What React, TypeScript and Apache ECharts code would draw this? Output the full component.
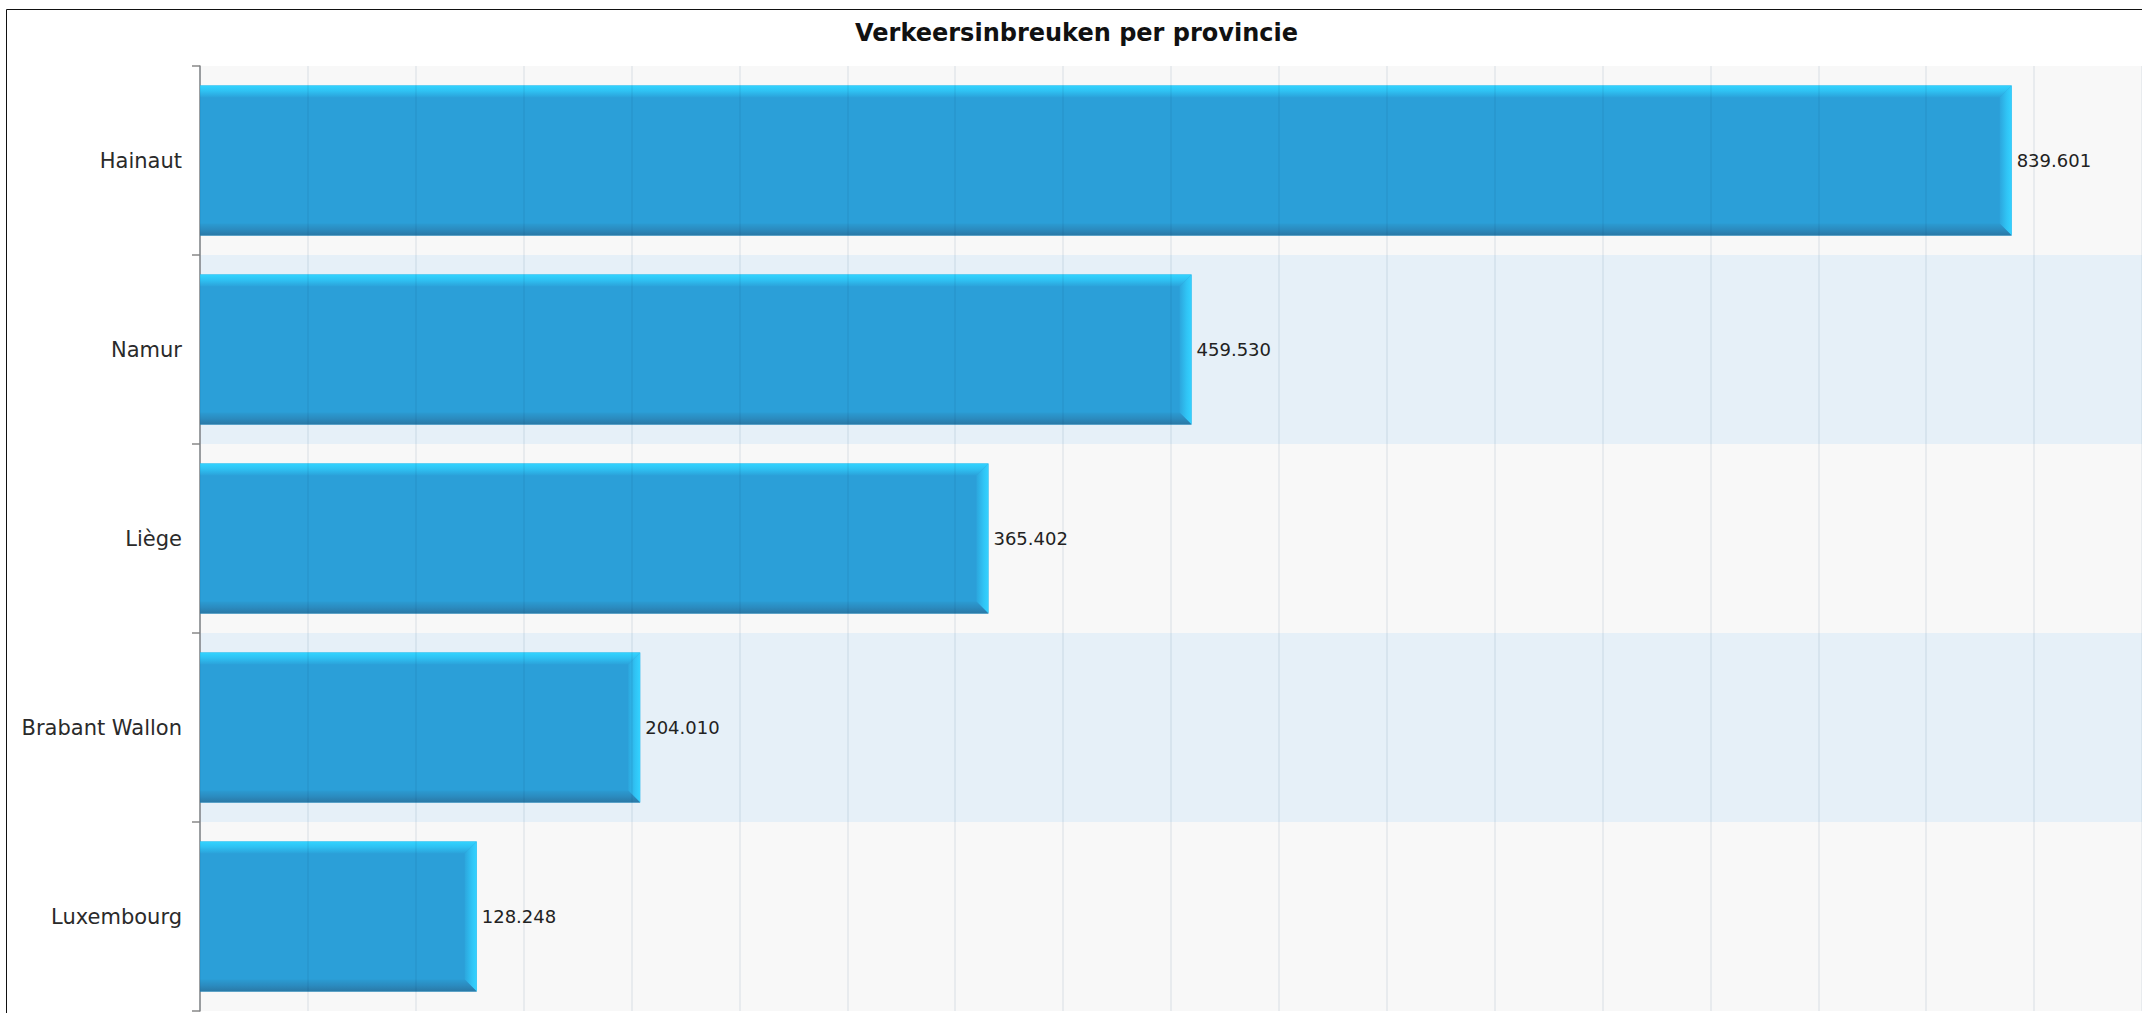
import React, { useEffect, useRef } from "react";
import * as echarts from "echarts";

const titleText = "Verkeersinbreuken per provincie";
const categories = ["Hainaut", "Namur", "Liège", "Brabant Wallon", "Luxembourg"];
const values = [839601, 459530, 365402, 204010, 128248];
const xMin = 0;
const xMax = 900000;
const xInterval = 50000;

function fmt(v: number): string {
  const s = Math.round(v).toString();
  return s.replace(/\B(?=(\d{3})+(?!\d))/g, ".");
}

export default function App() {
  const ref = useRef<HTMLDivElement>(null);
  useEffect(() => {
    if (!ref.current) return;
    const chart = echarts.init(ref.current, undefined, { renderer: "svg" });
    const option: any = {
      animation: false,
      backgroundColor: "#ffffff",
      grid: { left: 200, top: 66, height: 945, width: 1944, containLabel: false },
      graphic: [
        {
          type: "rect",
          silent: true,
          z: 0,
          shape: { x: 6.5, y: 9.5, width: 2400, height: 1200 },
          style: { fill: "transparent", stroke: "#111", lineWidth: 1 },
        },
        {
          type: "text",
          x: 1076.5,
          y: 33,
          style: {
            text: titleText,
            font: 'bold 24px "DejaVu Sans"',
            fill: "#111",
            align: "center",
            verticalAlign: "middle",
          },
        },
      ],
      xAxis: {
        type: "value",
        min: xMin,
        max: xMax,
        interval: xInterval,
        z: 3,
        axisLine: { show: false },
        axisTick: { show: false },
        axisLabel: { show: false },
        splitLine: { show: true, lineStyle: { color: "rgba(0,50,100,0.085)", width: 1.5 } },
      },
      yAxis: {
        type: "category",
        data: categories,
        inverse: true,
        axisLine: { show: true, lineStyle: { color: "#888", width: 1.5 } },
        axisTick: { show: true, length: 8, lineStyle: { color: "#888", width: 1.5 } },
        axisLabel: {
          fontSize: 21,
          fontFamily: "DejaVu Sans",
          color: "#2a2a2a",
          margin: 18,
        },
        splitLine: { show: false },
        splitArea: { show: true, areaStyle: { color: ["#f8f8f8", "#e6f0f8"] } },
      },
      series: [
        {
          type: "custom",
          clip: false,
          encode: { x: 0, y: 1 },
          data: values.map((v, i) => [v, i]),
          renderItem: (params: any, api: any) => {
            const v = api.value(0);
            const idx = api.value(1);
            const end = api.coord([v, idx]);
            const start = api.coord([0, idx]);
            const band = api.size([0, 1])[1];
            const h = band * 0.794;
            const x0 = start[0];
            const x1 = end[0];
            const y0 = end[1] - h / 2;
            const y1 = end[1] + h / 2;
            const b = 12;
            return {
              type: "group",
              children: [
                {
                  type: "rect",
                  shape: { x: x0, y: y0, width: x1 - x0, height: y1 - y0 },
                  style: { fill: "#2b9fd8" },
                },
                {
                  type: "polygon",
                  shape: { points: [[x0, y0], [x1, y0], [x1 - b, y0 + b], [x0, y0 + b]] },
                  style: {
                    fill: new echarts.graphic.LinearGradient(0, 0, 0, 1, [
                      { offset: 0, color: "#32d4ff" },
                      { offset: 0.45, color: "#2fc2f3" },
                      { offset: 1, color: "#2ba2da" },
                    ]),
                  },
                },
                {
                  type: "polygon",
                  shape: { points: [[x1, y0], [x1, y1], [x1 - b, y1 - b], [x1 - b, y0 + b]] },
                  style: {
                    fill: new echarts.graphic.LinearGradient(0, 0, 1, 0, [
                      { offset: 0, color: "#2ca6dd" },
                      { offset: 0.6, color: "#30c4f5" },
                      { offset: 1, color: "#34d2ff" },
                    ]),
                  },
                },
                {
                  type: "polygon",
                  shape: { points: [[x0, y1 - b], [x1 - b, y1 - b], [x1, y1], [x0, y1]] },
                  style: {
                    fill: new echarts.graphic.LinearGradient(0, 0, 0, 1, [
                      { offset: 0, color: "#2b9bd2" },
                      { offset: 0.5, color: "#2b8bbf" },
                      { offset: 1, color: "#2a78a5" },
                    ]),
                  },
                },
                {
                  type: "text",
                  x: x1 + 5,
                  y: (y0 + y1) / 2,
                  style: {
                    text: fmt(v),
                    font: '18px "DejaVu Sans"',
                    fill: "#222",
                    align: "left",
                    verticalAlign: "middle",
                  },
                },
              ],
            };
          },
        },
      ],
    };
    chart.setOption(option);
    return () => chart.dispose();
  }, []);
  return (
    <div
      ref={ref}
      style={{ position: "absolute", left: 0, top: 0, width: 2142, height: 1013 }}
    />
  );
}
